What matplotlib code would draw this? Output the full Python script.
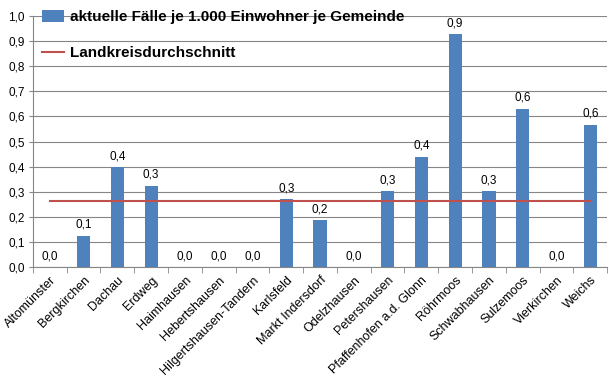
import numpy as np
import matplotlib
matplotlib.use("Agg")
import matplotlib.pyplot as plt

plt.rcParams['font.family'] = ['Liberation Sans', 'DejaVu Sans']

gemeinden = ["Altomünster", "Bergkirchen", "Dachau", "Erdweg", "Haimhausen",
             "Hebertshausen", "Hilgertshausen-Tandern", "Karlsfeld",
             "Markt Indersdorf", "Odelzhausen", "Petershausen",
             "Pfaffenhofen a.d. Glonn", "Röhrmoos", "Schwabhausen",
             "Sulzemoos", "Vierkirchen", "Weichs"]
faelle = [0.0, 0.124, 0.397, 0.323, 0.0, 0.0, 0.0, 0.271, 0.187, 0.0,
          0.303, 0.44, 0.928, 0.303, 0.63, 0.0, 0.566]
durchschnitt = 0.264

fig = plt.figure(figsize=(6.09, 3.80), dpi=100)
ax = fig.add_axes([0.054, 0.297, 0.943, 0.661])

x = np.arange(len(gemeinden))
bars = ax.bar(x, faelle, width=0.39, color="#4f81bd", zorder=3,
              label="aktuelle Fälle je 1.000 Einwohner je Gemeinde")
line, = ax.plot(x, [durchschnitt] * len(x), color="#c0504d", lw=1.5, zorder=4,
                label="Landkreisdurchschnitt")

for xi, v in zip(x, faelle):
    ax.text(xi, v + 0.02, f"{v:.1f}".replace(".", ","), ha="center",
            va="bottom", fontsize=8.5, zorder=5)

ax.set_xlim(-0.5, len(x) - 0.5)
ax.set_ylim(0, 1.0)
yt = np.arange(0, 1.01, 0.1)
ax.set_yticks(yt)
ax.set_yticklabels([f"{t:.1f}".replace(".", ",") for t in yt], fontsize=8.5)
ax.yaxis.grid(True, color="#868686", lw=0.8, zorder=0)

ax.set_xticks(x)
ax.set_xticklabels(gemeinden, rotation=45, ha="right", rotation_mode="anchor",
                   fontsize=9)
ax.tick_params(axis="x", length=0, pad=5)
ax.set_xticks(np.arange(-0.5, len(x), 1), minor=True)
ax.tick_params(axis="x", which="minor", length=4, color="#868686")
ax.tick_params(axis="y", length=3, color="#868686", pad=3)

for s in ["top", "right"]:
    ax.spines[s].set_visible(False)
ax.spines["left"].set_color("#868686")
ax.spines["bottom"].set_color("#868686")

ax.legend([bars, line], [bars.get_label(), line.get_label()],
          loc="upper left", bbox_to_anchor=(42 / 609, 1 - 10 / 380),
          bbox_transform=fig.transFigure, frameon=False,
          prop={"weight": "bold", "size": 11}, handlelength=1.45,
          handleheight=0.8, handletextpad=0.4, labelspacing=1.45,
          borderaxespad=0, borderpad=0)

fig.savefig("out.png", dpi=100)
